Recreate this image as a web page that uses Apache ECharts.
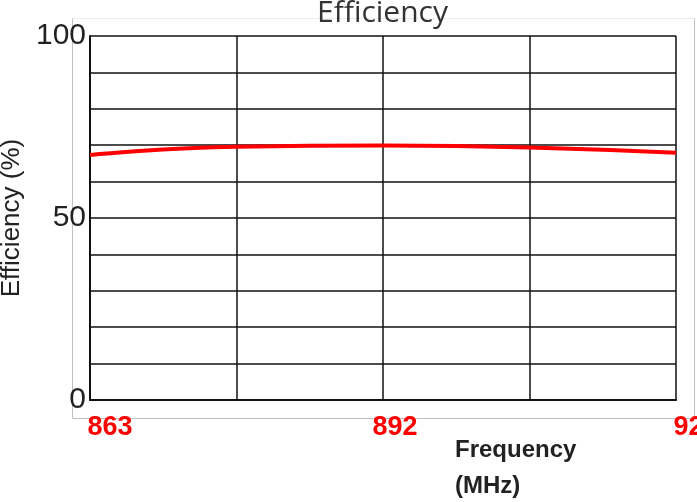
<!DOCTYPE html>
<html>
<head>
<meta charset="utf-8">
<script src="https://cdn.jsdelivr.net/npm/echarts@6/dist/echarts.min.js"></script>
<style>html,body{margin:0;padding:0;background:#fff;}#c{width:697px;height:502px;}</style>
</head>
<body>
<div id="c"></div>
<script>
const frequency = [863, 877.5, 892, 906.5, 921];
const efficiency = [67.3, 69.6, 69.9, 69.4, 67.9];
const xTickLabels = [863, 892, 921];
const yTickLabels = [0, 50, 100];

const chart = echarts.init(document.getElementById('c'), null, {renderer: 'canvas'});
chart.setOption({
  animation: false,
  backgroundColor: '#fff',
  title: {
    text: 'Efficiency',
    left: 317,
    top: -2,
    padding: 0,
    textStyle: {fontFamily: 'Open Sans', fontSize: 30, fontWeight: 'normal', color: '#333'}
  },
  grid: {left: 90, right: 21, top: 36, bottom: 102, containLabel: false, outerBoundsMode: 'none'},
  graphic: [
    {type: 'line', shape: {x1: 72.5, y1: 18.5, x2: 694.5, y2: 18.5}, style: {stroke: '#ececec', lineWidth: 1}, z: -1},
    {type: 'line', shape: {x1: 72.5, y1: 18.5, x2: 72.5, y2: 418.5}, style: {stroke: '#c0c0c0', lineWidth: 1}, z: -1},
    {type: 'line', shape: {x1: 694.5, y1: 18.5, x2: 694.5, y2: 418.5}, style: {stroke: '#c0c0c0', lineWidth: 1}, z: -1},
    {type: 'line', shape: {x1: 72.5, y1: 418.5, x2: 694.5, y2: 418.5}, style: {stroke: '#c0c0c0', lineWidth: 1}, z: -1},
    {type: 'text', left: 455, top: 432, style: {text: 'Frequency\n(MHz)', fontFamily: 'Liberation Sans', fontWeight: 'bold', fontSize: 24, lineHeight: 36, fill: '#222'}}
  ],
  xAxis: {
    type: 'value',
    min: 863,
    max: 921,
    interval: 14.5,
    axisLine: {show: true, lineStyle: {color: '#111', width: 2}},
    axisTick: {show: false},
    splitLine: {show: true, lineStyle: {color: '#111', width: 1.5}},
    axisLabel: {
      show: true,
      margin: 14,
      showMaxLabel: true,
      showMinLabel: true,
      hideOverlap: false,
      formatter: function (v) {
        if (v === xTickLabels[0]) return '{a|' + v + '}';
        if (v === xTickLabels[1]) return '{b|' + v + '}';
        if (v === xTickLabels[2]) return '{a|' + v + '}';
        return '';
      },
      rich: {
        a: {fontFamily: 'Liberation Sans', fontWeight: 'bold', fontSize: 27, color: '#ff0000', padding: [0, 0, 0, 40]},
        b: {fontFamily: 'Liberation Sans', fontWeight: 'bold', fontSize: 27, color: '#ff0000', padding: [0, 0, 0, 24]}
      }
    }
  },
  yAxis: {
    type: 'value',
    min: 0,
    max: 100,
    interval: 10,
    name: 'Efficiency (%)',
    nameLocation: 'middle',
    nameGap: 44,
    nameTextStyle: {fontFamily: 'Liberation Sans', fontSize: 26, color: '#222', padding: [10, 0, 0, 0]},
    axisLine: {show: true, lineStyle: {color: '#111', width: 2}},
    axisTick: {show: false},
    splitLine: {show: true, lineStyle: {color: '#111', width: 1.5}},
    axisLabel: {
      margin: 4,
      fontFamily: 'Liberation Sans',
      fontSize: 30,
      color: '#222',
      formatter: function (v) { return yTickLabels.indexOf(v) >= 0 ? String(v) : ''; }
    }
  },
  series: [{
    type: 'line',
    data: frequency.map((f, i) => [f, efficiency[i]]),
    smooth: true,
    showSymbol: false,
    lineStyle: {color: '#ff0000', width: 4},
    z: 5
  }]
});
</script>
</body>
</html>
